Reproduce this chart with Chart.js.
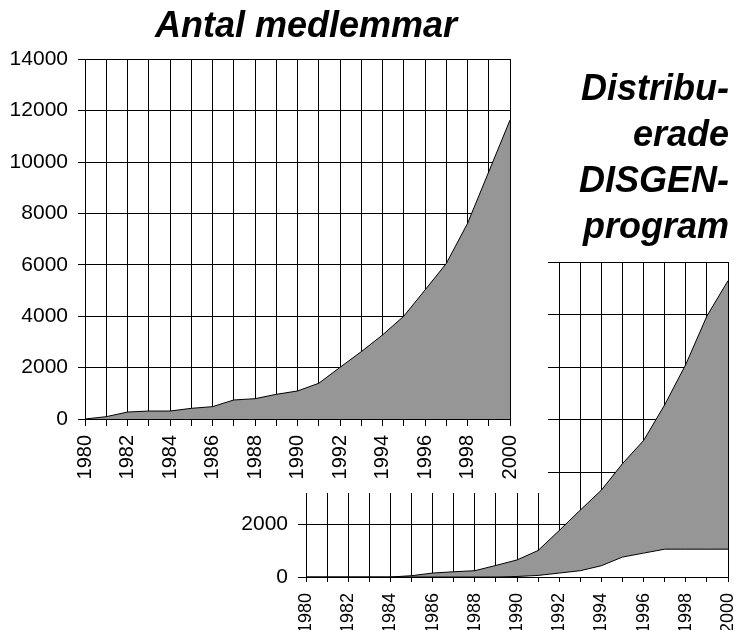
<!DOCTYPE html>
<html>
<head>
<meta charset="utf-8">
<script src="https://cdn.jsdelivr.net/npm/chart.js@4"></script>
<style>
html, body { margin: 0; padding: 0; background: #fff; width: 734px; height: 630px; overflow: hidden; }
#c2 { position: absolute; left: 0; top: 0; }
#box1 { position: absolute; left: 0; top: 0; width: 548px; height: 493px; background: #fff; overflow: visible; }
#c1 { position: absolute; left: 0; top: 0; }
</style>
</head>
<body>
<canvas id="c2" width="734" height="630"></canvas>
<div id="box1"><canvas id="c1" width="612" height="493"></canvas></div>
<script>
// ---- data ----
const years = ['1980','1981','1982','1983','1984','1985','1986','1987','1988','1989','1990',
               '1991','1992','1993','1994','1995','1996','1997','1998','1999','2000'];
const yearLabelsShown = ['1980','1982','1984','1986','1988','1990','1992','1994','1996','1998','2000'];

// Antal medlemmar
const members = [0, 90, 270, 310, 310, 415, 480, 740, 790, 960, 1090,
                 1390, 2010, 2620, 3270, 4000, 5020, 6050, 7610, 9620, 11630];
const membersTicks = [0, 2000, 4000, 6000, 8000, 10000, 12000, 14000];

// Distribuerade DISGEN-program (grey = total, white = lower series)
const programsTotal = [0, 0, 0, 0, 0, 50, 150, 200, 240, 440, 650,
                       1010, 1770, 2550, 3310, 4320, 5200, 6560, 8100, 9940, 11290];
const programsLower = [0, 0, 0, 0, 0, 0, 0, 0, 0, 0, 20,
                       60, 150, 240, 430, 760, 910, 1060, 1060, 1060, 1060];
const programsTicks = [0, 2000, 4000, 6000, 8000, 10000, 12000];

const title1 = 'Antal medlemmar';
const title2 = ['Distribu-', 'erade', 'DISGEN-', 'program'];

// ---- chart setup ----
Chart.defaults.font.family = "'Liberation Sans', Arial, Helvetica, sans-serif";
Chart.defaults.color = '#000';

const GREY = '#969696';
const xTick = (val, i) => yearLabelsShown.includes(years[i]) ? years[i] : '';
const fixX = h => s => { s.height = h; s.paddingLeft = 0; s.paddingRight = 0; };

// Chart 2 (behind)
new Chart(document.getElementById('c2'), {
  type: 'line',
  data: {
    labels: years,
    datasets: [
      { data: programsLower, fill: 'origin', backgroundColor: '#ffffff', borderColor: '#000', borderWidth: 1, pointRadius: 0, tension: 0 },
      { data: programsTotal, fill: 'origin', backgroundColor: GREY, borderColor: '#000', borderWidth: 1, pointRadius: 0, tension: 0 }
    ]
  },
  options: {
    responsive: false, animation: false, devicePixelRatio: 1,
    layout: { padding: { left: 0, right: 5, top: 0, bottom: 0 } },
    plugins: {
      legend: { display: false }, tooltip: { enabled: false },
      title: { display: true, text: title2, align: 'end', color: '#000',
               font: { size: 36, weight: 'bold', style: 'italic', lineHeight: 46/36 },
               padding: { top: 67, bottom: 11 } }
    },
    scales: {
      x: {
        ticks: { autoSkip: false, maxRotation: 90, minRotation: 90, padding: 11, color: '#000', font: { size: 18 }, callback: xTick },
        grid: { color: '#000', lineWidth: 1, tickLength: 5, tickColor: '#000' },
        border: { color: '#000' },
        afterFit: fixX(53)
      },
      y: {
        min: programsTicks[0], max: programsTicks[programsTicks.length - 1],
        ticks: { stepSize: programsTicks[1] - programsTicks[0], padding: 10, color: '#000', font: { size: 21 }, callback: v => String(v) },
        grid: { color: '#000', lineWidth: 1, tickLength: 8, tickColor: '#000' },
        border: { color: '#000' },
        afterFit: s => { s.width = 306; }
      },
      yr: {
        position: 'right', display: true, z: 1,
        grid: { display: false, drawTicks: false }, ticks: { display: false },
        border: { display: true, color: '#000' },
        afterFit: s => { s.width = 1; }
      }
    }
  }
});

// Chart 1 (front, white box)
new Chart(document.getElementById('c1'), {
  type: 'line',
  data: {
    labels: years,
    datasets: [
      { data: members, fill: 'origin', backgroundColor: GREY, borderColor: '#000', borderWidth: 1, pointRadius: 0, tension: 0 }
    ]
  },
  options: {
    responsive: false, animation: false, devicePixelRatio: 1,
    layout: { padding: 0 },
    plugins: {
      legend: { display: false }, tooltip: { enabled: false },
      title: { display: true, text: title1, color: '#000',
               font: { size: 36, weight: 'bold', style: 'italic', lineHeight: 1.2 },
               padding: { top: 5, bottom: 11 } }
    },
    scales: {
      x: {
        ticks: { autoSkip: false, maxRotation: 90, minRotation: 90, padding: 9, color: '#000', font: { size: 20 }, callback: xTick },
        grid: { color: '#000', lineWidth: 1, tickLength: 7, tickColor: '#000' },
        border: { color: '#000' },
        afterFit: fixX(74)
      },
      y: {
        min: membersTicks[0], max: membersTicks[membersTicks.length - 1],
        ticks: { stepSize: membersTicks[1] - membersTicks[0], padding: 10, color: '#000', font: { size: 21 }, callback: v => String(v) },
        grid: { color: '#000', lineWidth: 1, tickLength: 7, tickColor: '#000' },
        border: { color: '#000' },
        afterFit: s => { s.width = 85; }
      },
      yr: {
        position: 'right', display: true, z: 1,
        grid: { display: false, drawTicks: false }, ticks: { display: false },
        border: { display: true, color: '#000' },
        afterFit: s => { s.width = 102; }
      }
    }
  }
});
</script>
</body>
</html>
